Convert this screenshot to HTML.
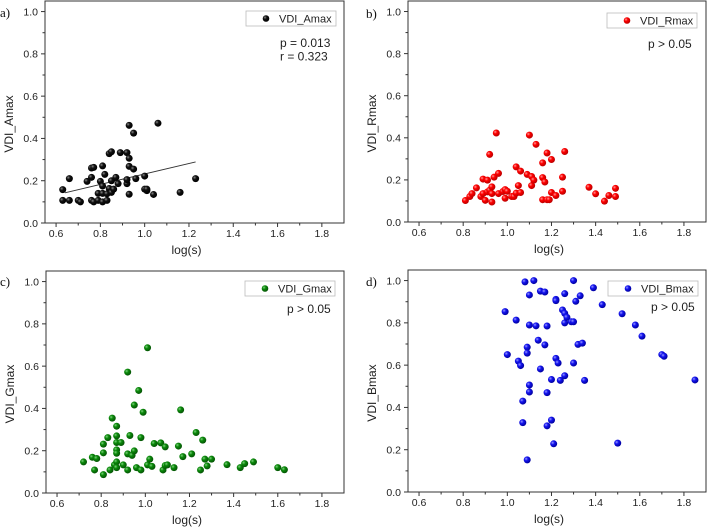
<!DOCTYPE html>
<html><head><meta charset="utf-8"><style>
body{margin:0;background:#fff;}
svg{display:block;font-family:"Liberation Sans",sans-serif;}
</style></head><body>
<svg id="fig" width="708" height="532" viewBox="0 0 708 532">
<defs>
<radialGradient id="gk" cx="35%" cy="35%" r="65%"><stop offset="0" stop-color="#888"/><stop offset="0.4" stop-color="#111"/><stop offset="1" stop-color="#000"/></radialGradient>
<radialGradient id="gr" cx="35%" cy="35%" r="65%"><stop offset="0" stop-color="#ff9a9a"/><stop offset="0.4" stop-color="#f00"/><stop offset="1" stop-color="#b00"/></radialGradient>
<radialGradient id="gg" cx="35%" cy="35%" r="65%"><stop offset="0" stop-color="#7fd07f"/><stop offset="0.4" stop-color="#0a8a0a"/><stop offset="1" stop-color="#055505"/></radialGradient>
<radialGradient id="gb" cx="35%" cy="35%" r="65%"><stop offset="0" stop-color="#9a9aff"/><stop offset="0.4" stop-color="#1414f0"/><stop offset="1" stop-color="#0000a0"/></radialGradient>
</defs>
</svg>
<script>
const xTicks=[0.6,0.8,1.0,1.2,1.4,1.6,1.8];
const yTicks=[0.0,0.2,0.4,0.6,0.8,1.0];
const xDomain=[0.55,1.9];
const yDomain=[0,1.05];
const aX=[0.63,0.63,0.66,0.66,0.70,0.71,0.74,0.76,0.76,0.76,0.77,0.77,0.79,0.79,0.80,0.81,0.81,0.81,0.81,0.82,0.83,0.83,0.84,0.84,0.85,0.85,0.85,0.86,0.87,0.88,0.89,0.92,0.92,0.92,0.93,0.93,0.93,0.93,0.95,0.95,0.96,1.0,1.0,1.01,1.01,1.04,1.06,1.16,1.23];
const aY=[0.158,0.107,0.21,0.107,0.107,0.10,0.197,0.26,0.216,0.107,0.263,0.10,0.107,0.14,0.197,0.175,0.27,0.14,0.10,0.23,0.107,0.138,0.163,0.328,0.337,0.2,0.145,0.16,0.216,0.186,0.333,0.186,0.333,0.205,0.462,0.306,0.268,0.136,0.425,0.255,0.21,0.222,0.16,0.153,0.16,0.135,0.472,0.145,0.21];
const aFit=[0.248,-0.016];
const aFitRange=[0.64,1.23];
const bX=[0.81,0.83,0.84,0.86,0.88,0.89,0.89,0.90,0.91,0.91,0.92,0.92,0.93,0.93,0.93,0.94,0.95,0.96,0.96,0.98,0.99,0.99,1.0,1.02,1.03,1.04,1.04,1.05,1.06,1.06,1.09,1.10,1.11,1.11,1.12,1.13,1.16,1.16,1.16,1.17,1.18,1.18,1.19,1.20,1.20,1.22,1.25,1.25,1.26,1.37,1.40,1.44,1.46,1.49,1.49];
const bY=[0.102,0.121,0.135,0.162,0.121,0.204,0.135,0.103,0.143,0.199,0.321,0.151,0.167,0.135,0.095,0.213,0.423,0.231,0.135,0.145,0.154,0.113,0.146,0.121,0.121,0.137,0.262,0.173,0.242,0.14,0.226,0.413,0.216,0.173,0.199,0.369,0.106,0.211,0.281,0.19,0.328,0.106,0.106,0.297,0.14,0.126,0.213,0.146,0.335,0.165,0.134,0.099,0.126,0.16,0.121];
const cX=[0.72,0.76,0.77,0.78,0.81,0.81,0.81,0.83,0.84,0.85,0.86,0.87,0.87,0.87,0.87,0.87,0.87,0.87,0.89,0.90,0.92,0.92,0.92,0.93,0.94,0.95,0.95,0.96,0.97,0.98,0.98,0.99,1.01,1.01,1.02,1.03,1.04,1.07,1.08,1.09,1.09,1.10,1.13,1.15,1.16,1.17,1.21,1.23,1.25,1.26,1.27,1.28,1.30,1.37,1.43,1.45,1.49,1.60,1.63];
const cY=[0.147,0.169,0.109,0.163,0.087,0.19,0.231,0.262,0.109,0.354,0.133,0.316,0.27,0.239,0.204,0.188,0.147,0.12,0.239,0.133,0.572,0.185,0.109,0.272,0.178,0.416,0.199,0.12,0.485,0.262,0.109,0.382,0.687,0.133,0.16,0.126,0.234,0.237,0.109,0.218,0.13,0.133,0.12,0.222,0.393,0.172,0.185,0.286,0.109,0.25,0.16,0.128,0.16,0.134,0.12,0.139,0.147,0.12,0.11];
const dX=[0.99,1.0,1.04,1.05,1.06,1.07,1.07,1.08,1.09,1.09,1.09,1.10,1.10,1.10,1.10,1.12,1.13,1.14,1.15,1.15,1.17,1.17,1.18,1.18,1.18,1.20,1.20,1.21,1.22,1.22,1.22,1.23,1.24,1.25,1.26,1.26,1.26,1.26,1.27,1.29,1.30,1.30,1.30,1.31,1.32,1.33,1.34,1.35,1.39,1.43,1.50,1.52,1.58,1.61,1.70,1.71,1.85];
const dY=[0.853,0.65,0.813,0.619,0.598,0.43,0.328,0.994,0.685,0.657,0.152,0.932,0.79,0.506,0.473,1.0,0.786,0.718,0.95,0.582,0.946,0.696,0.785,0.47,0.313,0.532,0.34,0.228,0.911,0.905,0.632,0.61,0.528,0.861,0.845,0.938,0.8,0.55,0.826,0.805,1.0,0.805,0.61,0.902,0.698,0.928,0.704,0.528,0.966,0.886,0.231,0.843,0.79,0.737,0.65,0.642,0.53];

const NS='http://www.w3.org/2000/svg';
const svg=document.getElementById('fig');
function mk(tag,attrs,parent){const e=document.createElementNS(NS,tag);for(const k in attrs)e.setAttribute(k,attrs[k]);(parent||svg).appendChild(e);return e;}

function panel(id,L,T,W,H,xs,ys,grad,legendText,stats,letter,yTitle,legBox,statPos,fit,fitRange){
  const g=mk('g',{});
  
  
  const sx=v=>L+(v-xDomain[0])/(xDomain[1]-xDomain[0])*W;
  const sy=v=>T+H-(v-yDomain[0])/(yDomain[1]-yDomain[0])*H;
  const B=T+H;
  const fr=mk('rect',{x:L,y:T,width:W,height:H,fill:'none',stroke:'#333','stroke-width':1},g);
  
  
  for(let i=0;i<xTicks.length;i++){
    const v=xTicks[i],x=sx(v);
    mk('line',{x1:x,y1:B,x2:x,y2:B+4,stroke:'#333'},g);
    const mv=v+0.1,mx=sx(mv);
    if(mv<xDomain[1])mk('line',{x1:mx,y1:B,x2:mx,y2:B+2.5,stroke:'#333'},g);
    const t=mk('text',{x:x,y:B+14,'font-size':10.5,'text-anchor':'middle',fill:'#222'},g);
    t.textContent=v.toFixed(1);
    
    
  }
  for(let i=0;i<yTicks.length;i++){
    const v=yTicks[i],y=sy(v);
    mk('line',{x1:L,y1:y,x2:L-4,y2:y,stroke:'#333'},g);
    const my=sy(v+0.1);
    if(v+0.1<yDomain[1])mk('line',{x1:L,y1:my,x2:L-2.5,y2:my,stroke:'#333'},g);
    const t=mk('text',{x:L-7,y:y+3.8,'font-size':10.5,'text-anchor':'end',fill:'#222'},g);
    t.textContent=v.toFixed(1);
    
    
  }
  const xt=mk('text',{x:L+W/2-8,y:B+31,'font-size':12,'text-anchor':'middle',fill:'#222'},g);
  xt.textContent='log(s)';
  
  
  const yx=L-32,yy=T+H/2+12;
  const yt=mk('text',{x:yx,y:yy,'font-size':12,'text-anchor':'middle',fill:'#222',transform:`rotate(-90 ${yx} ${yy})`},g);
  yt.textContent=yTitle;
  
  
  const lt=mk('text',{x:letter[0],y:letter[1],'font-size':13,'font-family':'Liberation Serif, serif',fill:'#111'},g);
  lt.textContent=id+')';
  
  
  if(fit){
    const fl=mk('line',{x1:sx(fitRange[0]),y1:sy(fit[0]*fitRange[0]+fit[1]),x2:sx(fitRange[1]),y2:sy(fit[0]*fitRange[1]+fit[1]),stroke:'#333','stroke-width':0.9},g);
    
    
  }
  for(let i=0;i<xs.length;i++){
    const c=mk('circle',{cx:sx(xs[i]),cy:sy(ys[i]),r:3.5,fill:`url(#${grad})`},g);
    
    
  }
  const lg=mk('g',{},g);
  
  
  mk('rect',{x:legBox[0],y:legBox[1],width:90,height:15,fill:'#fff',stroke:'#bbb','stroke-width':0.8},lg);
  mk('circle',{cx:legBox[0]+20,cy:legBox[1]+7.5,r:3.3,fill:`url(#${grad})`},lg);
  const ltx=mk('text',{x:legBox[0]+33,y:legBox[1]+11.5,'font-size':11,fill:'#222'},lg);
  ltx.textContent=legendText;
  
  
  stats.forEach((s,i)=>{
    const st=mk('text',{x:statPos[0],y:statPos[1]+i*13.5,'font-size':12,fill:'#222'},g);
    st.textContent=s;
    
    
  });
}
panel('a',45,1,299,222,aX,aY,'gk','VDI_Amax',['p = 0.013','r = 0.323'],[0,17],'VDI_Amax',[246,11],[280,47],aFit,aFitRange);
panel('b',408,1,298,221,bX,bY,'gr','VDI_Rmax',['p > 0.05'],[366,18],'VDI_Rmax',[607,13],[648,48]);
panel('c',46,271,298,222,cX,cY,'gg','VDI_Gmax',['p > 0.05'],[0,286],'VDI_Gmax',[245,281],[287,313]);
panel('d',408,270,298,222,dX,dY,'gb','VDI_Bmax',['p > 0.05'],[366,286],'VDI_Bmax',[608,281],[651,311]);
</script>
</body></html>
